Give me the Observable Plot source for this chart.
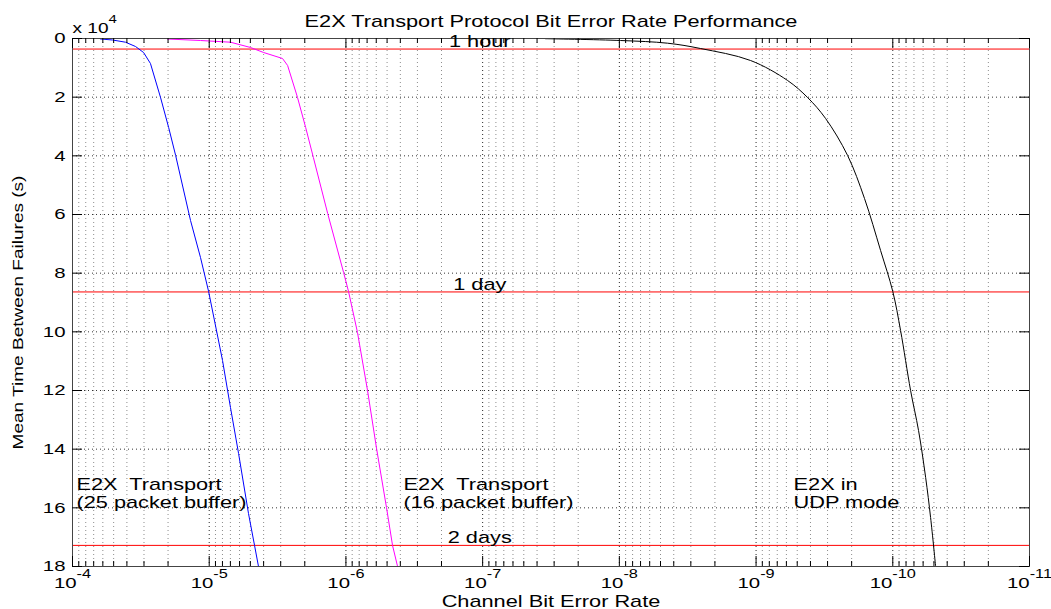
<!DOCTYPE html>
<html><head><meta charset="utf-8">
<script src="https://cdn.jsdelivr.net/npm/d3@7"></script>
<script src="https://cdn.jsdelivr.net/npm/@observablehq/plot@0.6"></script>
<style>
html,body{margin:0;padding:0;background:#fff;}
#chart svg{display:block;}
#chart text{white-space:pre;}
</style></head><body><div id="chart"></div>
<script>
// ---- text ----
const titleText = "E2X Transport Protocol Bit Error Rate Performance";
const xLabelText = "Channel Bit Error Rate";
const yLabelText = "Mean Time Between Failures (s)";
const yMultiplierText = "x 10^4";

// ---- series: channel bit error rate vs mean time between failures (s) ----
const ber25 = [6.24e-5, 5.1e-5, 4.1e-5, 3.46e-5, 3.02e-5, 2.69e-5, 2.27e-5, 1.98e-5, 1.76e-5, 1.37e-5, 1.158e-5, 1.01e-5, 7.99e-6, 6.99e-6, 6.1e-6, 5.16e-6, 4.66e-6, 4.36e-6];
const mtbf25 = [170, 511, 1261, 2727, 4773, 8523, 20114, 30341, 39886, 62045, 74659, 86250, 109773, 125795, 141477, 161932, 172841, 180000];

const ber16 = [2.02e-5, 1.158e-5, 6.99e-6, 4.99e-6, 4.0e-6, 2.91e-6, 2.67e-6, 2.26e-6, 1.97e-6, 1.73e-6, 1.36e-6, 1.04e-6, 9.57e-7, 8.23e-7, 6.95e-7, 5.97e-7, 5.05e-7, 4.56e-7, 4.19e-7];
const mtbf16 = [170, 682, 1261, 3068, 4773, 6818, 9205, 20114, 30341, 40568, 59659, 79773, 86250, 100227, 120000, 139773, 159886, 172841, 180000];

const berUdp = [3.47e-8, 9.8e-9, 4.44e-9, 2.55e-9, 1.097e-9, 5.88e-10, 4.2e-10, 3.1e-10, 2.14e-10, 1.61e-10, 1.228e-10, 1.0e-10, 8.77e-11, 7.41e-11, 6.48e-11, 5.75e-11, 5.29e-11, 4.86e-11];
const mtbfUdp = [70, 682, 1602, 3409, 7500, 14318, 20114, 27273, 39886, 54545, 72273, 86250, 99545, 120000, 133636, 149659, 163295, 180000];

// ---- reference lines ----
const refValues = [3600, 86400, 172800];
const refLabels = ["1 hour", "1 day", "2 days"];
const refLabelBer = 1.05e-7;

// ---- curve annotations ----
const curveLabels = ["E2X  Transport\n(25 packet buffer)", "E2X  Transport\n(16 packet buffer)", "E2X in\nUDP mode"];
const curveLabelBer = [9.35e-5, 3.79e-7, 5.32e-10];
const curveLabelMtbf = [160000, 160000, 160000];

// ---- ticks ----
const xTickExponents = [-4, -5, -6, -7, -8, -9, -10, -11];
const yTickValues = [0, 20000, 40000, 60000, 80000, 100000, 120000, 140000, 160000, 180000];
const yTickLabels = ["0", "2", "4", "6", "8", "10", "12", "14", "16", "18"];

// ---- derived tables ----
const toRows = (xs, ys) => xs.map((x, i) => ({ber: x, mtbf: ys[i]}));
const rows25 = toRows(ber25, mtbf25);
const rows16 = toRows(ber16, mtbf16);
const rowsUdp = toRows(berUdp, mtbfUdp);
const refRows = refValues.map((v, i) => ({value: v, label: refLabels[i], ber: refLabelBer}));
const curveRows = curveLabels.map((t, i) => ({label: t, ber: curveLabelBer[i], mtbf: curveLabelMtbf[i]}));
const majorX = xTickExponents.map(e => Math.pow(10, e));
const minorX = [];
for (let e = -11; e <= -5; e++) for (let k = 2; k <= 9; k++) minorX.push(k * Math.pow(10, e));
const yLabelOf = new Map(yTickValues.map((v, i) => [v, yTickLabels[i]]));

const W = 1051, H = 609, mL = 72, mR = 22, mT = 38, mB = 43;
const plotH = H - mT - mB, plotW = W - mL - mR;
const gridDash = "1,3";

const chart = Plot.plot({
  width: W, height: H,
  marginLeft: mL, marginRight: mR, marginTop: mT, marginBottom: mB,
  style: {fontFamily: "'Liberation Sans', Arial, sans-serif", fontSize: "15px", background: "#fff", color: "#000"},
  x: {type: "log", domain: [majorX[0], majorX[majorX.length - 1]], axis: null},
  y: {domain: [yTickValues[0], yTickValues[yTickValues.length - 1]], reverse: true, axis: null},
  marks: [
    // grid
    Plot.ruleX(minorX, {x: d => d, stroke: "#000", strokeOpacity: 0.45, strokeDasharray: gridDash}),
    Plot.ruleX(majorX.slice(1, -1), {x: d => d, stroke: "#000", strokeOpacity: 0.85, strokeDasharray: gridDash}),
    Plot.ruleY(yTickValues.slice(1, -1), {y: d => d, stroke: "#000", strokeOpacity: 0.8, strokeDasharray: gridDash}),
    // reference lines
    Plot.ruleY(refRows, {y: "value", stroke: "#ff0000", strokeWidth: 1}),
    // curves
    Plot.line(rows25, {x: "ber", y: "mtbf", stroke: "#0000ff", strokeWidth: 1, clip: true}),
    Plot.line(rows16, {x: "ber", y: "mtbf", stroke: "#ff00ff", strokeWidth: 1, clip: true}),
    Plot.line(rowsUdp, {x: "ber", y: "mtbf", stroke: "#000000", strokeWidth: 1, curve: "catmull-rom", clip: true}),
    // frame
    Plot.frame({stroke: "#444"}),
    // inward ticks
    Plot.tickX(majorX, {x: d => d, insetTop: plotH - 10, stroke: "#000"}),
    Plot.tickX(majorX, {x: d => d, insetBottom: plotH - 10, stroke: "#000"}),
    Plot.tickX(minorX, {x: d => d, insetTop: plotH - 5, stroke: "#000"}),
    Plot.tickX(minorX, {x: d => d, insetBottom: plotH - 5, stroke: "#000"}),
    Plot.tickY(yTickValues, {y: d => d, insetRight: plotW - 10, stroke: "#000"}),
    Plot.tickY(yTickValues, {y: d => d, insetLeft: plotW - 10, stroke: "#000"}),
    // axes labels
    Plot.axisX(majorX, {tickSize: 0, tickPadding: 11, label: null, fontSize: 15,
      tickFormat: d => "10^" + Math.round(Math.log10(d))}),
    Plot.axisY(yTickValues, {tickSize: 0, tickPadding: 7, label: null, fontSize: 15,
      tickFormat: d => yLabelOf.get(d)}),
    // reference line labels
    Plot.text(refRows, {x: "ber", y: "value", text: "label", textAnchor: "middle", lineAnchor: "bottom", dy: -2, fontSize: 16}),
    // curve labels
    Plot.text(curveRows, {x: "ber", y: "mtbf", text: "label", textAnchor: "start", lineAnchor: "bottom", lineHeight: 1.125, fontSize: 16}),
    // title, axis titles, multiplier
    Plot.text([titleText], {text: d => d, frameAnchor: "top", textAnchor: "middle", lineAnchor: "bottom", dy: -12, fontSize: 16}),
    Plot.text([xLabelText], {text: d => d, frameAnchor: "bottom", textAnchor: "middle", lineAnchor: "bottom", dy: 40, fontSize: 16}),
    Plot.text([yLabelText], {text: d => d, frameAnchor: "left", textAnchor: "middle", rotate: -90, lineAnchor: "middle", dx: -54, dy: 10, fontSize: 14}),
    Plot.text([yMultiplierText], {text: d => d, frameAnchor: "top-left", textAnchor: "start", lineAnchor: "bottom", dy: -6, fontSize: 14})
  ]
});

document.getElementById("chart").appendChild(chart);

// superscripts: "base^exp" -> base + raised smaller exponent
const svg = chart.tagName.toLowerCase() === "svg" ? chart : chart.querySelector("svg");
svg.querySelectorAll("text").forEach(el => {
  if (el.children.length) return;
  const m = /^(.*?)\^(-?\d+)$/.exec(el.textContent);
  if (!m) return;
  const fs = parseFloat(getComputedStyle(el).fontSize) || 15;
  el.textContent = m[1];
  const sup = document.createElementNS("http://www.w3.org/2000/svg", "tspan");
  sup.setAttribute("dy", String(-Math.round(fs * 0.68)));
  sup.setAttribute("font-size", String(Math.round(fs * 0.8)));
  sup.textContent = m[2];
  el.appendChild(sup);
});
// horizontal stretch of the screen font, about each text's anchor
svg.querySelectorAll("text").forEach(el => {
  const t = el.getAttribute("transform");
  el.setAttribute("transform", (t ? t + " " : "") + "scale(1.36,1)");
});
</script></body></html>
